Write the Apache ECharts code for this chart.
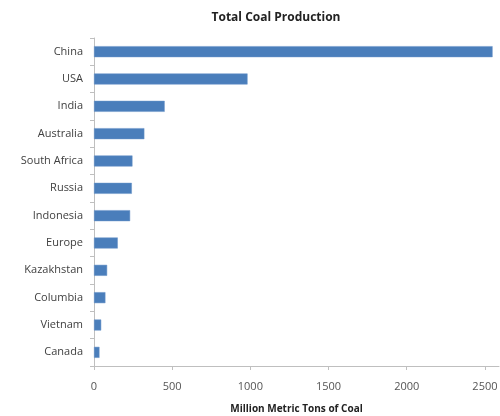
<!DOCTYPE html>
<html>
<head>
<meta charset="utf-8">
<script src="https://cdn.jsdelivr.net/npm/echarts@6/dist/echarts.min.js"></script>
<style>
  html, body { margin: 0; padding: 0; background: #fff; }
  #main { width: 500px; height: 416px; }
</style>
</head>
<body>
<div id="main"></div>
<script>
// 国家（从上到下）
var countries = ['China', 'USA', 'India', 'Australia', 'South Africa', 'Russia',
  'Indonesia', 'Europe', 'Kazakhstan', 'Columbia', 'Vietnam', 'Canada'];
// 产量，百万公吨
var production = [2549, 982, 452, 322, 246, 242, 231, 152, 84, 73, 46, 35];

var chart = echarts.init(document.getElementById('main'));

var option = {
  backgroundColor: '#fff',
  animation: false,
  title: {
    text: 'Total Coal Production',
    left: 271,
    top: 7,
    textAlign: 'center',
    textStyle: { fontFamily: 'Open Sans', fontSize: 12, fontWeight: 'bold', color: '#222' }
  },
  // 固定绘图区，不让 v6 自动收缩
  grid: { left: 94, right: 1, top: 38, height: 328, outerBoundsMode: 'none', containLabel: false },
  xAxis: {
    type: 'value',
    min: 0,
    max: 2590,
    interval: 500,
    name: 'Million Metric Tons of Coal',
    nameLocation: 'middle',
    nameGap: 38,
    nameTextStyle: { fontFamily: 'Open Sans', fontSize: 10, fontWeight: 'bold', color: '#222' },
    axisLine: { show: true, lineStyle: { color: '#bfbfbf' } },
    axisTick: { show: true, length: 4, lineStyle: { color: '#bfbfbf' } },
    axisLabel: {
      showMaxLabel: false,
      fontFamily: 'Open Sans', fontSize: 11, color: '#555', margin: 15,
      formatter: function (v) { return String(v); }
    },
    splitLine: { show: false }
  },
  yAxis: {
    type: 'category',
    inverse: true,
    data: countries,
    axisLine: { show: true, lineStyle: { color: '#bfbfbf' } },
    axisTick: { show: true, length: 4, lineStyle: { color: '#bfbfbf' } },
    axisLabel: { fontFamily: 'Open Sans', fontSize: 11, color: '#404040', margin: 11 }
  },
  series: [
    {
      type: 'bar',
      data: production,
      barWidth: 11,
      itemStyle: { color: '#4a7ebb', borderColor: '#6a95c8', borderWidth: 0.5 }
    }
  ]
};

chart.setOption(option);
</script>
</body>
</html>
